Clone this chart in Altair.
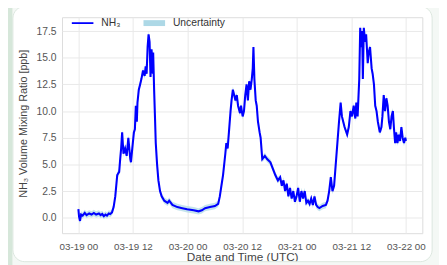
import altair as alt
import pandas as pd

# Hours since 03-19 00 UTC and NH3 volume mixing ratio [ppb]
HOURS = [0.0, 0.15, 0.36, 0.6, 0.93, 1.4, 1.8, 2.37, 2.9, 3.4, 3.9, 4.52, 4.9, 5.24, 5.6, 5.96, 6.3, 6.68, 7.0, 7.39,
         7.75, 8.11, 8.54, 8.97, 9.19, 9.40, 9.62, 9.91, 10.27, 10.62, 10.98, 11.41, 11.56, 11.85, 12.20, 12.42,
         12.63, 12.85, 12.99, 13.28, 13.57, 13.85, 14.21, 14.57, 14.79, 15.00, 15.22, 15.43, 15.65, 15.86, 16.08,
         16.22, 16.37, 16.44, 16.65, 16.87, 17.01, 17.30, 17.59, 17.95, 18.31, 18.88, 19.60, 19.96, 20.67, 21.75,
         22.83, 23.91, 25.34, 26.42, 27.14, 27.85, 28.93, 30.01, 30.73, 31.09, 31.44, 31.80, 32.30, 32.52, 32.81,
         33.09, 33.45, 33.67, 33.96, 34.24, 34.53, 34.82, 35.10, 35.53, 35.75, 36.11, 36.40, 36.68, 36.97, 37.26,
         37.54, 37.83, 38.12, 38.33, 38.48, 38.69, 38.98, 39.20, 39.48, 39.84, 40.06, 40.42, 40.99, 41.49, 42.21,
         42.57, 43.29, 43.86, 44.36, 44.72, 45.08, 45.44, 45.80, 46.16, 46.52, 46.88, 47.24, 47.60, 47.95, 48.31,
         48.67, 49.03, 49.39, 49.75, 50.11, 50.47, 50.83, 51.18, 51.54, 51.90, 52.26, 52.62, 52.98, 53.70, 54.41,
         54.77, 55.13, 55.49, 55.85, 56.21, 56.57, 56.93, 57.29, 57.65, 57.93, 58.22, 58.51, 59.08, 59.44, 59.80,
         60.16, 60.52, 60.88, 61.09, 61.38, 61.74, 61.95, 62.17, 62.38, 62.53, 62.74, 63.03, 63.25, 63.60, 63.82,
         64.11, 64.46, 64.68, 64.97, 65.25, 65.54, 65.83, 66.26, 66.62, 66.83, 67.12, 67.41, 67.70, 67.98, 68.27,
         68.56, 68.84, 69.13, 69.35, 69.63, 69.85, 70.14, 70.42, 70.71, 71.00, 71.28, 71.57, 71.86, 72.0]
NH3 = [0.8, 0.1, -0.3, 0.3, 0.2, 0.45, 0.25, 0.4, 0.3, 0.45, 0.3, 0.4, 0.25, 0.35, 0.15, 0.3, 0.2, 0.4, 0.35, 0.5,
       1.0, 2.0, 4.0, 4.3, 5.5, 6.5, 8.0, 6.0, 6.5, 5.8, 7.5, 5.5, 5.2, 6.5, 8.0, 8.3,
       10.5, 9.0, 10.8, 12.0, 12.5, 13.0, 13.8, 13.3, 14.2, 13.5, 16.0, 17.2, 16.5, 13.2, 15.8,
       15.0, 13.5, 15.5, 12.0, 9.0, 7.0, 5.0, 3.5, 2.5, 2.0, 1.6, 1.4, 1.6, 1.2, 1.0,
       0.9, 0.8, 0.7, 0.6, 0.7, 0.9, 1.0, 1.1, 1.3, 2.0, 3.0, 4.0, 6.0, 7.0, 6.5,
       8.0, 10.0, 11.0, 12.0, 11.5, 11.0, 11.5, 10.5, 9.8, 10.5, 9.5, 10.0, 11.5, 12.5, 11.0,
       12.8, 12.0, 13.0, 14.0, 16.0, 13.0, 11.0, 10.5, 9.0, 8.0, 7.5, 5.5, 5.8, 5.5, 5.2,
       4.8, 4.0, 3.5, 3.8, 3.0, 3.5, 2.5, 3.2, 2.0, 2.8, 1.8, 2.5, 1.5, 2.0, 2.8,
       1.5, 2.5, 1.8, 2.5, 1.4, 1.6, 1.3, 1.8, 1.2, 2.0, 1.2, 1.0, 0.9, 1.1, 1.2,
       1.6, 2.5, 3.8, 2.5, 3.0, 5.0, 7.0, 9.0, 10.8, 9.5, 9.0, 8.5, 7.8, 8.5, 10.0,
       9.5, 10.5, 9.3, 10.8, 9.5, 13.0, 17.8, 16.0, 17.5, 13.0, 17.8, 16.5, 17.2, 14.5, 15.5,
       16.0, 14.0, 13.5, 12.5, 10.5, 10.0, 9.0, 8.0, 8.5, 9.5, 11.5, 10.0, 11.2, 10.5, 9.0,
       8.3, 9.5, 10.0, 8.5, 7.0, 8.0, 7.0, 7.8, 7.2, 8.5, 7.5, 7.0, 7.5, 7.2]
UNCERTAINTY = 0.3  # ppb, half-width of band

X_TICKS = [0, 12, 24, 36, 48, 60, 72]
X_TICK_LABELS = ["03-19 00", "03-19 12", "03-20 00", "03-20 12", "03-21 00", "03-21 12", "03-22 00"]
Y_TICKS = [0.0, 2.5, 5.0, 7.5, 10.0, 12.5, 15.0, 17.5]
LEGEND_LABELS = ["NH\u2083", "Uncertainty"]
X_TITLE = "Date and Time (UTC)"
Y_TITLE = "NH\u2083 Volume Mixing Ratio [ppb]"

df = pd.DataFrame({"h": HOURS, "v": NH3})
df["lo"] = df["v"] - UNCERTAINTY
df["hi"] = df["v"] + UNCERTAINTY

FONT = "Liberation Sans"
BLUE = "#0000ff"
LIGHTBLUE = "#add8e6"

label_expr = "[" + ",".join("'%s'" % s for s in X_TICK_LABELS) + "][round(datum.value/12)]"

xs = alt.Scale(domain=[-3.6, 75.6], nice=False, zero=False)
ys = alt.Scale(domain=[-1.45, 18.8], nice=False, zero=False)

xaxis = alt.Axis(values=X_TICKS, labelExpr=label_expr, title=X_TITLE, grid=True, gridColor="#e9e9e9",
                 domain=False, ticks=False, labelPadding=9, labelFontSize=10, labelColor="#555555",
                 labelFont=FONT, titleFont=FONT, titleFontSize=12, titleFontWeight="normal",
                 titleColor="#444444", titleBaseline="alphabetic", titleY=27.5, labelOverlap=False)
yaxis = alt.Axis(values=Y_TICKS, format=".1f", title=Y_TITLE, grid=True, gridColor="#e9e9e9",
                 domain=False, ticks=False, labelPadding=6, labelFontSize=10.5, labelColor="#555555",
                 labelFont=FONT, titleFont=FONT, titleFontSize=11, titleFontWeight="normal",
                 titleColor="#444444", titleBaseline="alphabetic", titleX=-36, titleY=108, titleAngle=-90,
                 labelOverlap=False, tickCount=8)

band = alt.Chart(df).mark_area(color=LIGHTBLUE, opacity=0.7).encode(
    x=alt.X("h:Q", scale=xs, axis=xaxis),
    y=alt.Y("lo:Q", scale=ys, axis=yaxis),
    y2="hi:Q",
)
line = alt.Chart(df).mark_line(color=BLUE, strokeWidth=2.1).encode(
    x=alt.X("h:Q", scale=xs, axis=xaxis),
    y=alt.Y("v:Q", scale=ys, axis=yaxis),
)

one = alt.Data(values=[{"k": 1}])

# card decoration (outside region, border, left green strip)
outside = alt.Chart(one).mark_rect(fill=None, stroke="#f4f8f5", strokeWidth=20, cornerRadius=22).encode(
    x=alt.value(-60), x2=alt.value(387), y=alt.value(-21), y2=alt.value(259))
border = alt.Chart(one).mark_rect(fill=None, stroke="#dbe7de", strokeWidth=1, cornerRadius=12).encode(
    x=alt.value(-50), x2=alt.value(377), y=alt.value(-11), y2=alt.value(249))
strip = alt.Chart(one).mark_rect(fill="#d6e7da").encode(
    x=alt.value(-60), x2=alt.value(-50.5), y=alt.value(-20), y2=alt.value(260))

# legend
leg_line = alt.Chart(one).mark_rule(color=BLUE, strokeWidth=1.8).encode(
    x=alt.value(10), x2=alt.value(32), y=alt.value(6))
leg_rect = alt.Chart(one).mark_rect(fill=LIGHTBLUE).encode(
    x=alt.value(83), x2=alt.value(105), y=alt.value(3), y2=alt.value(9))
leg_t1 = alt.Chart(one).mark_text(text=LEGEND_LABELS[0], align="left", baseline="middle", font=FONT,
                                  fontSize=10.5, color="#333333").encode(x=alt.value(40), y=alt.value(6))
leg_t2 = alt.Chart(one).mark_text(text=LEGEND_LABELS[1], align="left", baseline="middle", font=FONT,
                                  fontSize=10.5, color="#333333").encode(x=alt.value(113), y=alt.value(6))

chart = alt.layer(band, line, leg_line, leg_rect, leg_t1, leg_t2, outside, border, strip).properties(
    width=367, height=220,
    autosize=alt.AutoSizeParams(type="none"),
    padding={"left": 55, "top": 7, "right": 17, "bottom": 30},
    background="white",
).configure_view(stroke="#dcdcdc", strokeWidth=1)

chart.save("out.html", embed_options={"renderer": "svg", "actions": False})
